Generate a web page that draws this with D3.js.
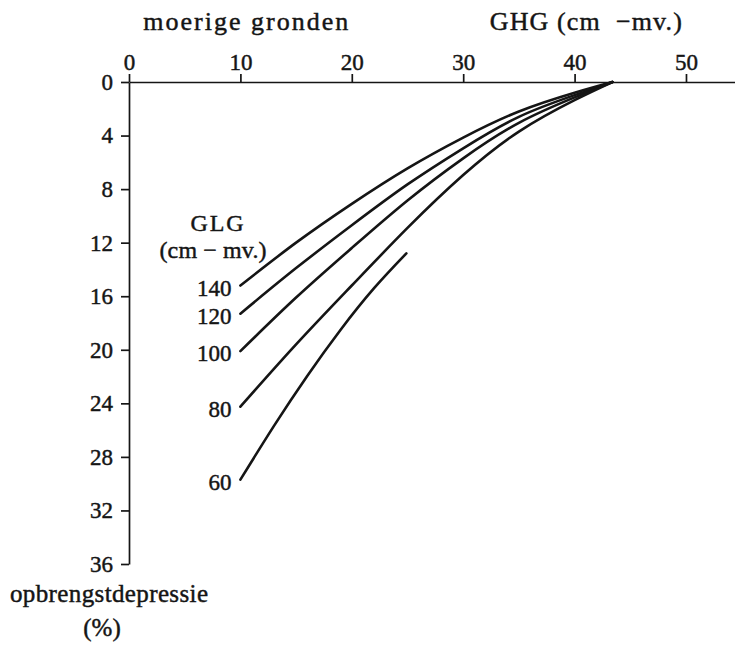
<!DOCTYPE html>
<html><head><meta charset="utf-8">
<script src="https://cdn.jsdelivr.net/npm/d3@7"></script>
<style>
body{margin:0;background:#fff}
svg{display:block}
text{font-family:"Liberation Serif","Times New Roman",serif;fill:#151515;stroke:#151515;stroke-width:0.45px}
</style>
</head><body>
<svg id="c" width="735" height="647"></svg>
<script>
// ---- data ----
const xTicks = [0, 10, 20, 30, 40, 50];
const yTicks = [0, 4, 8, 12, 16, 20, 24, 28, 32, 36];
const glgLabels = ["140", "120", "100", "80", "60"];
const ghgMain = [10, 15, 20, 25, 30, 35, 40, 43.4];
const dep140 = [15.2, 12.0, 9.1, 6.45, 4.15, 2.2, 0.8, 0];
const dep120 = [17.3, 13.9, 10.7, 7.65, 4.95, 2.6, 0.98, 0];
const dep100 = [20.1, 16.1, 12.4, 8.85, 5.7, 3.05, 1.15, 0];
const dep80  = [24.25, 19.6, 15.2, 10.9, 6.95, 3.7, 1.35, 0];
const ghg60  = [10, 13, 16, 19, 22, 24.9];
const dep60  = [29.7, 25.7, 21.95, 18.5, 15.4, 12.8];

const series = [
  {label: glgLabels[0], xs: ghgMain, ys: dep140},
  {label: glgLabels[1], xs: ghgMain, ys: dep120},
  {label: glgLabels[2], xs: ghgMain, ys: dep100},
  {label: glgLabels[3], xs: ghgMain, ys: dep80},
  {label: glgLabels[4], xs: ghg60, ys: dep60}
];

const svg = d3.select("#c");
const x = d3.scaleLinear().domain([0, 54.4]).range([129, 735]);
const y = d3.scaleLinear().domain([0, 36]).range([82, 564]);
const ink = "#151515";

// x axis (top)
const xa = svg.append("g").attr("transform", `translate(0,${y(0)})`)
  .call(d3.axisTop(x).tickValues(xTicks).tickSize(8).tickSizeOuter(0).tickPadding(4).tickFormat(d3.format("d")));
// y axis (left)
const ya = svg.append("g").attr("transform", `translate(${x(0)},0)`)
  .call(d3.axisLeft(y).tickValues(yTicks).tickSize(8).tickSizeOuter(0).tickPadding(8).tickFormat(d3.format("d")));
[xa, ya].forEach(g => {
  g.selectAll("path.domain").attr("stroke", ink).attr("stroke-width", 1.7);
  g.selectAll(".tick line").attr("stroke", ink).attr("stroke-width", 1.7);
  g.selectAll(".tick text").attr("font-size", 23).attr("fill", ink)
   .attr("font-family", '"Liberation Serif","Times New Roman",serif');
});

// curves
const line = d3.line().x(d => x(d[0])).y(d => y(d[1])).curve(d3.curveNatural);
series.forEach(s => {
  const pts = s.xs.map((v, i) => [v, s.ys[i]]);
  svg.append("path").attr("d", line(pts)).attr("fill", "none")
    .attr("stroke", ink).attr("stroke-width", 2.6).attr("stroke-linecap", "round");
  svg.append("text").attr("x", x(s.xs[0]) - 9).attr("y", y(s.ys[0]) + 10)
    .attr("text-anchor", "end").attr("font-size", 23).text(s.label);
});

// titles & labels
svg.append("text").attr("x", 245.8).attr("y", 30).attr("text-anchor", "middle")
  .attr("font-size", 26).attr("textLength", 205).attr("lengthAdjust", "spacing").text("moerige gronden");
svg.append("text").attr("x", 585.8).attr("y", 30).attr("text-anchor", "middle")
  .attr("font-size", 26).attr("textLength", 192).attr("lengthAdjust", "spacing")
  .style("white-space", "pre").text("GHG (cm  \u2212mv.)");
svg.append("text").attr("x", 217).attr("y", 231).attr("text-anchor", "middle")
  .attr("font-size", 24).attr("textLength", 53).attr("lengthAdjust", "spacing").text("GLG");
svg.append("text").attr("x", 213).attr("y", 258).attr("text-anchor", "middle")
  .attr("font-size", 24).attr("textLength", 107).attr("lengthAdjust", "spacing").text("(cm \u2212 mv.)");
svg.append("text").attr("x", 109).attr("y", 602).attr("text-anchor", "middle")
  .attr("font-size", 25).attr("textLength", 198).attr("lengthAdjust", "spacing").text("opbrengstdepressie");
svg.append("text").attr("x", 102).attr("y", 636).attr("text-anchor", "middle")
  .attr("font-size", 25).text("(%)");
</script>
</body></html>
